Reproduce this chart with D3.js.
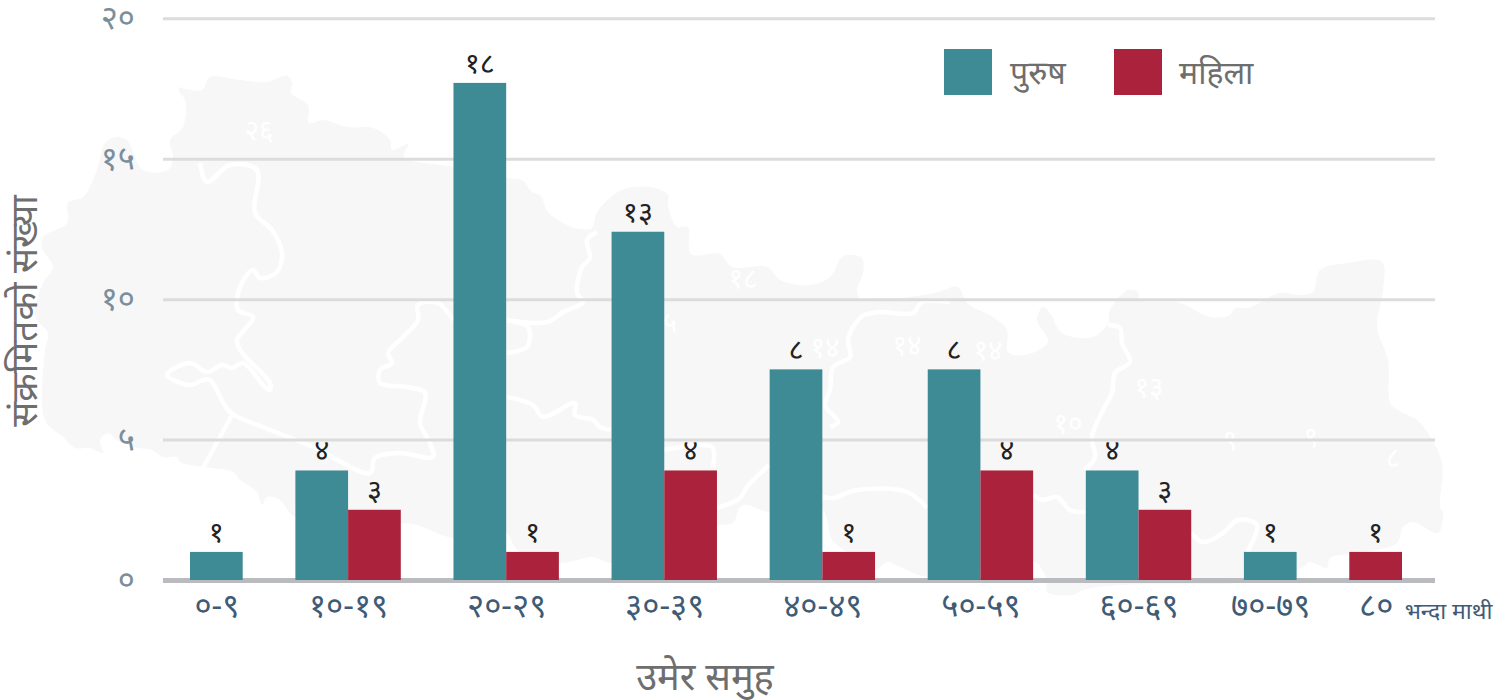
<!DOCTYPE html>
<html>
<head>
<meta charset="utf-8">
<script src="https://cdn.jsdelivr.net/npm/d3@7"></script>
<style>
    html, body { margin: 0; padding: 0; background: #fff; }
    svg { display: block; }
    text { font-family: "Noto Sans", "Noto Sans Devanagari", "Lato", sans-serif; }
</style>
</head>
<body>
<script>
const ageGroups = ["०-९", "१०-१९", "२०-२९", "३०-३९", "४०-४९", "५०-५९", "६०-६९", "७०-७९", "८०"];
const seriesNames = ["पुरुष", "महिला"];

// bar heights as measured off the y axis, the source draws them a bit short of the printed numbers
const maleValues = [1, 3.9, 17.7, 12.4, 7.5, 7.5, 3.9, 1, 0];
const femaleValues = [0, 2.5, 1, 3.9, 1, 3.9, 2.5, 0, 1];
// printed numbers above the bars
const maleLabels = ["१", "४", "१८", "१३", "८", "८", "४", "१", ""];
const femaleLabels = ["", "३", "१", "४", "१", "४", "३", "", "१"];

const yTicks = [0, 5, 10, 15, 20];
const yTickLabels = ["०", "५", "१०", "१५", "२०"];
const lastGroupNote = "भन्दा माथी";
const yTitle = "संक्रमितको संख्या";
const xTitle = "उमेर समुह";

const colors = ["#3e8a95", "#aa223b"];

// faded map of Nepal behind the plot, traced in page pixels
const mapOutline = [[178,87],[202,90],[210,77],[240,80],[267,82],[287,76],[292,83],[291,93],[308,105],[309,123],[323,120],[347,127],[373,128],[390,140],[392,150],[408,144],[404,157],[440,165],[480,170],[507,178],[522,180],[532,192],[540,195],[548,212],[567,225],[580,229],[592,228],[597,212],[618,192],[633,187],[655,188],[668,195],[668,205],[677,227],[688,227],[691,254],[720,254],[732,267],[767,267],[780,280],[810,285],[830,277],[842,257],[850,255],[862,258],[863,273],[857,290],[862,300],[900,298],[935,293],[958,287],[967,303],[993,317],[1007,330],[1008,352],[1025,355],[1048,342],[1037,320],[1043,307],[1050,313],[1062,333],[1093,337],[1108,323],[1110,310],[1128,290],[1138,292],[1140,300],[1180,303],[1210,317],[1230,315],[1235,308],[1248,308],[1280,293],[1300,295],[1313,292],[1320,270],[1348,263],[1382,262],[1383,290],[1377,327],[1388,360],[1390,403],[1398,410],[1417,420],[1428,433],[1442,463],[1440,507],[1443,513],[1438,533],[1413,522],[1403,527],[1397,543],[1360,553],[1330,558],[1327,568],[1310,562],[1303,567],[1250,582],[1190,584],[1120,585],[1083,590],[1073,595],[1047,592],[1047,580],[1037,563],[1030,560],[980,570],[927,577],[900,567],[887,562],[875,570],[847,552],[832,540],[822,510],[769,512],[747,505],[740,507],[733,523],[720,525],[664,545],[611,563],[593,557],[559,563],[517,550],[506,533],[453,538],[417,525],[401,523],[340,515],[295,517],[280,500],[267,497],[262,505],[257,492],[240,480],[233,472],[203,467],[180,462],[177,457],[163,457],[152,450],[133,447],[117,440],[108,433],[100,440],[103,453],[90,448],[75,448],[63,437],[45,420],[45,350],[48,333],[35,317],[37,300],[43,283],[53,267],[42,248],[43,237],[67,223],[68,203],[83,197],[97,170],[105,143],[117,137],[127,140],[143,170],[168,170],[173,157],[170,140],[183,127],[185,100],[180,93]];
const mapBorders = [
    [[200,163],[207,182],[230,165],[257,170],[255,213],[272,230],[282,253],[277,272],[260,278],[253,270],[240,287],[238,310],[253,317],[237,340],[240,350],[270,383],[270,390],[265,387],[243,363],[232,368],[222,365],[207,372],[190,363],[167,375],[190,385],[203,380],[210,380],[230,412],[263,427],[313,447],[370,473],[375,458],[400,453],[433,457],[430,443],[420,423],[425,393],[407,387],[380,383],[380,370],[392,363],[388,353],[403,337],[418,320],[418,305],[438,303],[453,320]],
    [[232,415],[203,468]],
    [[507,320],[547,322],[563,312],[583,302],[577,293],[582,267],[590,258],[587,240],[597,232]],
    [[507,320],[528,327],[530,335],[527,347],[507,353]],
    [[507,397],[533,405],[543,417],[575,403],[575,415],[593,420],[600,427],[611,430]],
    [[664,450],[712,447],[713,467]],
    [[769,465],[747,487],[740,498],[717,508]],
    [[863,315],[853,327],[848,340],[850,357],[833,367],[830,390],[825,405],[838,422],[830,427]],
    [[863,315],[880,312],[913,313],[922,302],[950,302]],
    [[822,497],[833,498],[857,490],[907,492],[927,508]],
    [[1033,495],[1043,500],[1057,497],[1070,510],[1085,512]],
    [[1108,325],[1120,328],[1122,343],[1130,362],[1115,373],[1112,393],[1103,410],[1092,437],[1095,457],[1085,470]],
    [[1191,533],[1203,542],[1223,533],[1238,520],[1257,525],[1247,552]]
];
const mapNumbers = [
    ["२६", 259, 130], ["१८", 743, 278], ["५", 670, 322], ["१४", 825, 347], ["१४", 907, 345], ["१४", 988, 350],
    ["१३", 1149, 387], ["१०", 1068, 423], ["९", 1230, 440], ["९", 1311, 437], ["८", 1393, 457]
];

const svgWidth = 1508;
const svgHeight = 700;

const svg = d3.select("body")
    .append("svg")
    .attr("width", svgWidth)
    .attr("height", svgHeight);

// backdrop
svg.append("path")
    .attr("d", d3.line().curve(d3.curveCatmullRom.alpha(0.5))(mapOutline) + "Z")
    .attr("fill", "#f7f7f7");
svg.append("g")
    .selectAll("path")
    .data(mapBorders)
    .join("path")
    .attr("d", d3.line().curve(d3.curveCatmullRom.alpha(0.5)))
    .attr("fill", "none")
    .attr("stroke", "#fff")
    .attr("stroke-width", 4.5)
    .attr("stroke-linejoin", "round");
svg.append("g")
    .selectAll("text")
    .data(mapNumbers)
    .join("text")
    .text(d => d[0])
    .attr("x", d => d[1])
    .attr("y", d => d[2])
    .attr("dy", "0.35em")
    .attr("text-anchor", "middle")
    .attr("font-size", "28px")
    .attr("fill", "#fff");

// scale-y
const scaleY = d3.scaleLinear()
    .domain([0, 20])
    .range([580, 18.3]);

// axis-y, the ticks double as grid lines
const yAxis = svg.append("g")
    .attr("transform", "translate(163, 0)")
    .call(d3.axisLeft(scaleY)
        .tickValues(yTicks)
        .tickFormat((d, i) => yTickLabels[i])
        .tickSize(-1272)
        .tickPadding(28));
yAxis.select(".domain").remove();
yAxis.selectAll("line")
    .attr("stroke", d => d === 0 ? "#babbbf" : "#dcdcdc")
    .attr("stroke-width", d => d === 0 ? 5 : 3);
yAxis.selectAll("text")
    .attr("font-size", "33px")
    .attr("font-family", null)
    .attr("fill", "#7c8e9b");

// flatten to one slot per drawn bar, empty bars take no room and one slot is left between groups
const bars = [];
const groupSlots = ageGroups.map(() => []);
let slot = 0;
ageGroups.forEach((group, i) => {
    [maleValues[i], femaleValues[i]].forEach((value, s) => {
        if (value > 0) {
            bars.push({group, value, series: s, slot, label: s === 0 ? maleLabels[i] : femaleLabels[i]});
            groupSlots[i].push(slot);
            slot++;
        }
    });
    slot++;
});

// scale-x
const slotCount = slot - 1;
const scaleX = d3.scaleBand()
    .domain(d3.range(slotCount))
    .range([190, 1402]);

const groupCenter = d3.scaleOrdinal()
    .domain(ageGroups)
    .range(groupSlots.map(s => (scaleX(s[0]) + scaleX(s[s.length - 1]) + scaleX.bandwidth()) / 2));

// axis-x
const xAxis = svg.append("g")
    .attr("transform", "translate(0, 580)")
    .call(d3.axisBottom(groupCenter).tickSize(0).tickPadding(14));
xAxis.select(".domain").remove();
xAxis.selectAll("text")
    .attr("font-size", "33px")
    .attr("font-family", null)
    .attr("fill", "#3f5b76");

svg.append("text")
    .text(lastGroupNote)
    .attr("x", groupCenter(ageGroups[8]) + 29)
    .attr("y", 619)
    .attr("font-size", "23px")
    .attr("fill", "#3f5b76");

// Show the bars
svg.append("g")
    .selectAll("rect")
    .data(bars)
    .join("rect")
    .attr("x", d => scaleX(d.slot))
    .attr("y", d => scaleY(d.value))
    .attr("width", scaleX.bandwidth())
    .attr("height", d => scaleY(0) - scaleY(d.value))
    .attr("fill", d => colors[d.series]);

// printed numbers
svg.append("g")
    .selectAll("text")
    .data(bars)
    .join("text")
    .text(d => d.label)
    .attr("x", d => scaleX(d.slot) + scaleX.bandwidth() / 2)
    .attr("y", d => scaleY(d.value) - 10)
    .attr("text-anchor", "middle")
    .attr("font-size", "29px")
    .attr("fill", "#222");

// legend
const legend = svg.append("g")
    .selectAll("g")
    .data(seriesNames)
    .join("g")
    .attr("transform", (d, i) => `translate(${944 + i * 170}, 49)`);
legend.append("rect")
    .attr("width", 48)
    .attr("height", 46)
    .attr("fill", (d, i) => colors[i]);
legend.append("text")
    .text(d => d)
    .attr("x", (d, i) => 66 - i)
    .attr("y", 35)
    .attr("font-size", "32px")
    .attr("fill", "#6e6e6e");

// axis titles
svg.append("text")
    .text(xTitle)
    .attr("x", 705)
    .attr("y", 690)
    .attr("text-anchor", "middle")
    .attr("font-size", "38px")
    .attr("fill", "#6e6e6e");
svg.append("text")
    .text(yTitle)
    .attr("transform", "translate(37, 311) rotate(-90)")
    .attr("text-anchor", "middle")
    .attr("font-size", "37px")
    .attr("fill", "#6e6e6e");
</script>
</body>
</html>
